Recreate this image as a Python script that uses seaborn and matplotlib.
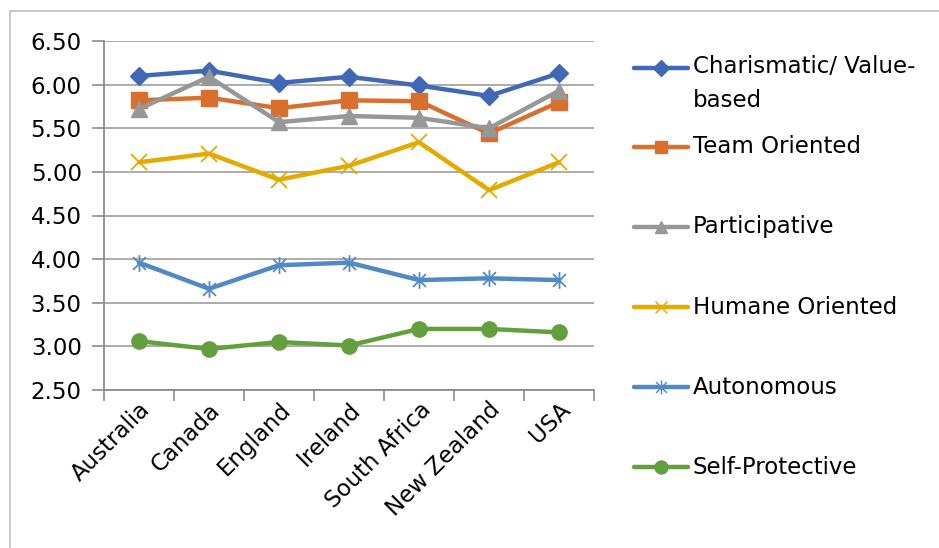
import matplotlib
matplotlib.use("Agg")
import matplotlib.pyplot as plt
from matplotlib.lines import Line2D
from matplotlib.path import Path
import numpy as np
import pandas as pd
import seaborn as sns

countries = ["Australia", "Canada", "England", "Ireland", "South Africa", "New Zealand", "USA"]
charismatic = [6.10, 6.16, 6.02, 6.09, 5.99, 5.87, 6.13]
team_oriented = [5.82, 5.85, 5.73, 5.82, 5.81, 5.44, 5.80]
participative = [5.72, 6.09, 5.57, 5.64, 5.62, 5.50, 5.93]
humane_oriented = [5.11, 5.21, 4.91, 5.07, 5.34, 4.79, 5.11]
autonomous = [3.96, 3.66, 3.93, 3.96, 3.76, 3.78, 3.76]
self_protective = [3.06, 2.97, 3.05, 3.01, 3.20, 3.20, 3.16]
y_ticks = [2.50, 3.00, 3.50, 4.00, 4.50, 5.00, 5.50, 6.00, 6.50]

series_names = ["Charismatic/ Value-\nbased", "Team Oriented", "Participative",
                "Humane Oriented", "Autonomous", "Self-Protective"]
series_values = [charismatic, team_oriented, participative,
                 humane_oriented, autonomous, self_protective]
colors = ["#4168B5", "#D86F2C", "#979797", "#E5AA00", "#5089C6", "#62A03E"]

# Excel-style asterisk: an x with a vertical stroke
asterisk = Path(
    [(-1, -1), (1, 1), (-1, 1), (1, -1), (0, -1.3), (0, 1.3)],
    [Path.MOVETO, Path.LINETO, Path.MOVETO, Path.LINETO, Path.MOVETO, Path.LINETO],
)
markers = ["D", "s", "^", "x", asterisk, "o"]
msizes = [9.5, 11, 11, 11, 12, 11]

sns.set_theme(style="white")
plt.rcParams["font.family"] = ["DejaVu Sans"]
FS = 16.5

W, H = 939, 548
fig = plt.figure(figsize=(W / 100, H / 100), dpi=100)
ax = fig.add_axes([104 / W, 1 - 390 / H, (594 - 104) / W, (390 - 41) / H])

frames = []
for name, vals in zip(series_names, series_values):
    frames.append(pd.DataFrame({"country": countries, "score": vals, "style": name}))
df = pd.concat(frames, ignore_index=True)

for name, col, mk, ms in zip(series_names, colors, markers, msizes):
    sub = df[df["style"] == name]
    thin = (mk == "x") or (mk is asterisk)
    sns.lineplot(data=sub, x="country", y="score", ax=ax, color=col, lw=3.2,
                 marker=mk, markersize=ms, markeredgecolor=col, markerfacecolor=col,
                 markeredgewidth=1.3 if thin else 1,
                 sort=False, legend=False, zorder=3)

ax.set_xlim(-0.5, len(countries) - 0.5)
ax.set_ylim(2.5, 6.5)
ax.set_yticks(y_ticks)
ax.set_yticklabels([f"{v:.2f}" for v in y_ticks])
ax.set_xticks(range(len(countries)))
ax.set_xticklabels(countries)
ax.set_xticks(np.arange(-0.5, len(countries), 1.0), minor=True)
ax.set_xlabel("")
ax.set_ylabel("")

grid_col = "#A6A6A6"
ax.yaxis.grid(True, color=grid_col, lw=1.3, zorder=0)
ax.xaxis.grid(False)
for s in ["top", "right"]:
    ax.spines[s].set_visible(False)
for s in ["left", "bottom"]:
    ax.spines[s].set_color("#8C8C8C")
    ax.spines[s].set_linewidth(1.3)

ax.tick_params(axis="y", which="major", length=9, width=1.2, color="#8C8C8C",
               direction="out", pad=7, labelsize=FS, labelcolor="black", left=True)
ax.tick_params(axis="x", which="major", length=0, pad=6, labelsize=FS, labelcolor="black")
ax.tick_params(axis="x", which="minor", length=8, width=1.2, color="#8C8C8C",
               direction="out", bottom=True)
for lbl in ax.get_xticklabels():
    lbl.set_rotation(45)
    lbl.set_ha("right")
    lbl.set_va("top")
    lbl.set_rotation_mode("anchor")

# legend drawn at the right of the plot
leg_rows = [68, 147, 227, 307, 387, 467]
for name, col, mk, ms, yy in zip(series_names, colors, markers, msizes, leg_rows):
    fy = 1 - yy / H
    fig.add_artist(Line2D([634 / W, 688 / W], [fy, fy], color=col, lw=3.2,
                          transform=fig.transFigure))
    fig.add_artist(Line2D([661 / W], [fy], color=col, marker=mk, markersize=ms * 0.85,
                          markerfacecolor=col, markeredgecolor=col, lw=0,
                          markeredgewidth=1.0, transform=fig.transFigure))
    if "\n" in name:
        fig.text(693 / W, 1 - (yy - 13) / H, name, fontsize=FS, color="black",
                 ha="left", va="top", linespacing=1.6)
    else:
        fig.text(693 / W, fy, name, fontsize=FS, color="black",
                 ha="left", va="center")

# chart-area border
fig.add_artist(Line2D([10 / W, 10 / W, 1.01], [-0.01, 1 - 11 / H, 1 - 11 / H],
                      color="#BFBFBF", lw=1.2, transform=fig.transFigure))

fig.savefig("out.png", dpi=100, facecolor="white")
